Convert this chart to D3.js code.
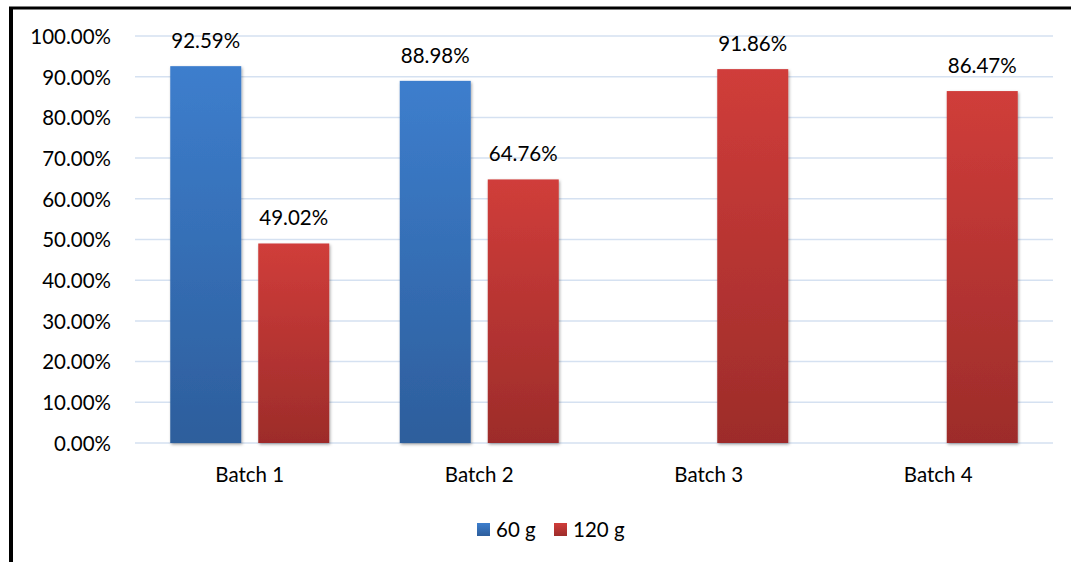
<!DOCTYPE html>
<html>
<head>
<meta charset="utf-8">
<script src="https://cdn.jsdelivr.net/npm/d3@7"></script>
<style>
  html, body { margin: 0; padding: 0; background: #fff; }
  svg { display: block; }
  text { font-family: Lato, "Open Sans", sans-serif; fill: #000; }
</style>
</head>
<body>
<svg id="chart" width="1071" height="562"></svg>
<script>
// Batch yields for two sample weights (null = not measured)
const batches = ["Batch 1", "Batch 2", "Batch 3", "Batch 4"];
const seriesNames = ["60 g", "120 g"];
const values60 = [92.59, 88.98, null, null];
const values120 = [49.02, 64.76, 91.86, 86.47];
const yTicks = [0, 10, 20, 30, 40, 50, 60, 70, 80, 90, 100];

const svg = d3.select("#chart");
const W = 1071, H = 562;
const FS = 20.5;
const plot = { left: 135, right: 1053, top: 36, bottom: 443 };

const x = d3.scaleBand().domain(batches).range([plot.left, plot.right]).paddingInner(0).paddingOuter(0);
const bw = x.bandwidth();
const xs = d3.scaleBand().domain(seriesNames)
  .range([bw * 0.1536, bw * (1 - 0.1536)]).paddingInner(17 / 88).paddingOuter(0);
const y = d3.scaleLinear().domain([0, 100]).range([plot.bottom, plot.top]);

const defs = svg.append("defs");
const grads = [
  { id: "gBlue", top: "#3D7ECD", bottom: "#2D5E9C" },
  { id: "gRed", top: "#D03D3A", bottom: "#9D2C2A" }
];
grads.forEach(g => {
  const lg = defs.append("linearGradient").attr("id", g.id)
    .attr("x1", 0).attr("y1", 0).attr("x2", 0).attr("y2", 1);
  lg.append("stop").attr("offset", "0%").attr("stop-color", g.top);
  lg.append("stop").attr("offset", "100%").attr("stop-color", g.bottom);
});
const f = defs.append("filter").attr("id", "shadow")
  .attr("x", "-20%").attr("y", "-10%").attr("width", "140%").attr("height", "120%");
f.append("feDropShadow").attr("dx", 1).attr("dy", 1.5).attr("stdDeviation", 1.8)
  .attr("flood-color", "#000").attr("flood-opacity", 0.35);

// Frame lines
svg.append("line").attr("x1", 9).attr("x2", W).attr("y1", 8).attr("y2", 8)
  .attr("stroke", "#000").attr("stroke-width", 3);
svg.append("line").attr("x1", 11).attr("x2", 11).attr("y1", 7).attr("y2", H)
  .attr("stroke", "#000").attr("stroke-width", 4);

// Gridlines
svg.append("g").selectAll("line").data(yTicks).join("line")
  .attr("x1", plot.left).attr("x2", plot.right)
  .attr("y1", d => y(d)).attr("y2", d => y(d))
  .attr("stroke", "#D5E1F1").attr("stroke-width", 1.5);

// Y axis labels
const yAxis = d3.axisLeft(y).tickValues(yTicks).tickSize(0).tickPadding(0)
  .tickFormat(d => d.toFixed(2) + "%");
svg.append("g").attr("transform", `translate(111,0)`).call(yAxis)
  .call(g => g.select(".domain").remove())
  .selectAll("text").style("font-family", "Lato, 'Open Sans', sans-serif")
  .attr("font-size", FS).attr("fill", "#000").attr("dy", "0.36em");

// X axis labels
const xAxis = d3.axisBottom(x).tickSize(0).tickPadding(0);
svg.append("g").attr("transform", `translate(0,${plot.bottom})`).call(xAxis)
  .call(g => g.select(".domain").remove())
  .selectAll("text").style("font-family", "Lato, 'Open Sans', sans-serif")
  .attr("font-size", FS).attr("fill", "#000").attr("y", 39).attr("dy", 0);

// Bars
const rows = [];
batches.forEach((b, i) => {
  if (values60[i] != null) rows.push({ batch: b, series: "60 g", value: values60[i], fill: "url(#gBlue)" });
  if (values120[i] != null) rows.push({ batch: b, series: "120 g", value: values120[i], fill: "url(#gRed)" });
});
svg.append("g").selectAll("rect").data(rows).join("rect")
  .attr("x", d => x(d.batch) + xs(d.series))
  .attr("width", xs.bandwidth())
  .attr("y", d => y(d.value))
  .attr("height", d => y(0) - y(d.value))
  .attr("fill", d => d.fill)
  .attr("filter", "url(#shadow)");

// Value labels
svg.append("g").selectAll("text").data(rows).join("text")
  .attr("x", d => x(d.batch) + xs(d.series) + xs.bandwidth() / 2)
  .attr("y", d => y(d.value) - 18)
  .attr("text-anchor", "middle").attr("font-size", FS)
  .text(d => d.value.toFixed(2) + "%");

// Legend
const legend = svg.append("g");
const legendItems = [
  { name: "60 g", fill: "url(#gBlue)", x: 477 },
  { name: "120 g", fill: "url(#gRed)", x: 554 }
];
legendItems.forEach(it => {
  legend.append("rect").attr("x", it.x).attr("y", 523).attr("width", 13).attr("height", 13)
    .attr("fill", it.fill);
  legend.append("text").attr("x", it.x + 19).attr("y", 537).attr("font-size", FS).text(it.name);
});
</script>
</body>
</html>
